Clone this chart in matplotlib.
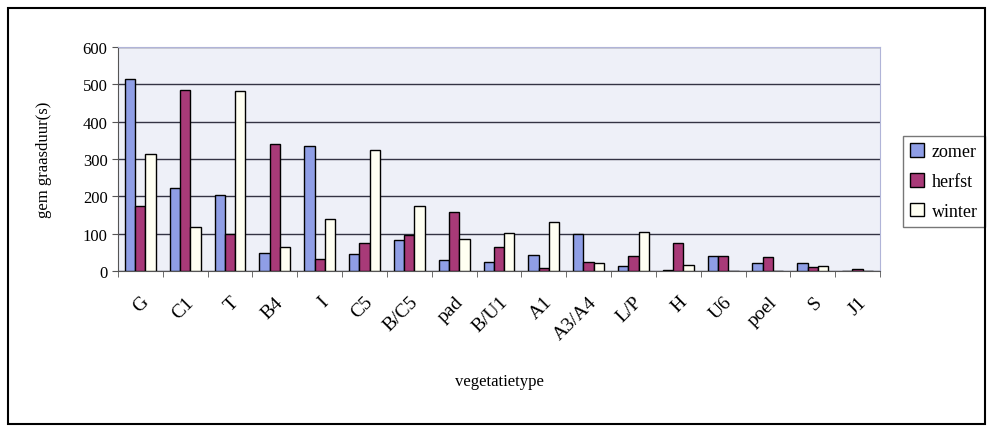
#!/usr/bin/env python3

import numpy as np
import matplotlib
matplotlib.use("Agg")
import matplotlib.pyplot as plt
from matplotlib.patches import Rectangle

plt.rcParams['font.family'] = ['Liberation Serif', 'DejaVu Serif']

# gemiddelde graasduur per vegetatietype (s)
types = ['G', 'C1', 'T', 'B4', 'I', 'C5', 'B/C5', 'pad', 'B/U1', 'A1',
         'A3/A4', 'L/P', 'H', 'U6', 'poel', 'S', 'J1']
zomer = [515, 221, 204, 49, 335, 46, 84, 29, 25, 42, 100, 12, 3, 40, 20, 22, 1]
herfst = [173, 484, 100, 340, 31, 74, 95, 159, 65, 8, 25, 40, 76, 40, 38, 10, 4]
winter = [314, 118, 483, 65, 140, 323, 175, 86, 102, 132, 20, 104, 15, 0, 0, 14, 0]
seasons = ['zomer', 'herfst', 'winter']
colors = ['#8f9ee6', '#a83a78', '#fffff2']

fig = plt.figure(figsize=(9.91, 4.31), dpi=100)
ax = fig.add_axes([0.119, 0.369, 0.769, 0.52])
ax.set_facecolor('#eef0f8')

x = np.arange(len(types))
w = 0.23
for i, (vals, c, lab) in enumerate(zip([zomer, herfst, winter], colors, seasons)):
    ax.bar(x + (i - 1) * w, vals, w, color=c, edgecolor='black',
           linewidth=1.0, label=lab, zorder=3)

ax.set_xlim(-0.5, len(types) - 0.5)
ax.set_ylim(0, 600)
ax.set_yticks(range(0, 601, 100))
ax.yaxis.grid(True, color='#333344', linewidth=1.0, zorder=0)
ax.set_xticks(x)
ax.set_xticklabels(types, rotation=45, ha='right', rotation_mode='anchor',
                   fontsize=14)
ax.set_xticks(np.arange(len(types) + 1) - 0.5, minor=True)
ax.tick_params(axis='x', which='major', length=0, pad=16)
ax.tick_params(axis='x', which='minor', length=4, color='#555555')
ax.tick_params(axis='y', labelsize=12, length=4, color='#555555')
for s in ['top', 'right']:
    ax.spines[s].set_color('#b0b4d8')
ax.spines['left'].set_color('#555555')
ax.spines['bottom'].set_color('#555555')

ax.set_ylabel('gem graasduur(s)', fontsize=12, labelpad=22)
ax.set_xlabel('vegetatietype', fontsize=12, labelpad=22)

leg = ax.legend(loc='center left', bbox_to_anchor=(1.018, 0.4), fontsize=13,
                frameon=True, fancybox=False, edgecolor='#555555',
                handlelength=0.8, handleheight=0.8, handletextpad=0.4,
                labelspacing=0.7, borderpad=0.4)

fig.patches.append(Rectangle((0.008, 0.015), 0.986, 0.965, transform=fig.transFigure,
                             fill=False, edgecolor='black', linewidth=1.5))

fig.savefig('out.png', dpi=100)
